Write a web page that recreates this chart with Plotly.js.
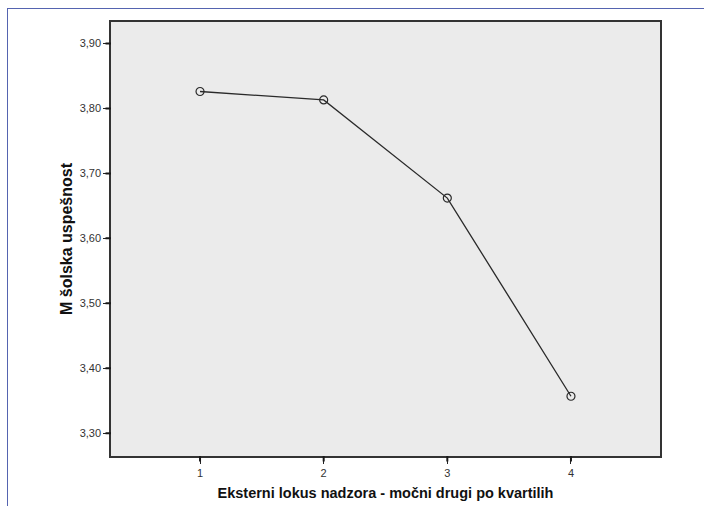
<!DOCTYPE html>
<html>
<head>
<meta charset="utf-8">
<script src="https://cdn.plot.ly/plotly-3.0.1.min.js"></script>
<style>
html,body{margin:0;padding:0;background:#fff;overflow:hidden;}
#frame{position:absolute;left:7px;top:8px;width:697px;height:498px;border-left:1.5px solid #5564b0;border-top:1.5px solid #5564b0;box-sizing:border-box;}
#chart{position:absolute;left:0;top:0;width:704px;height:506px;}
</style>
</head>
<body>
<div id="frame"></div>
<div id="chart"></div>
<script>
const categories = [1, 2, 3, 4];
const means = [3.826, 3.813, 3.662, 3.357];
const yTicks = [3.30, 3.40, 3.50, 3.60, 3.70, 3.80, 3.90];
const xTitle = "Eksterni lokus nadzora - močni drugi po kvartilih";
const yTitle = "M šolska uspešnost";

const W = 704, H = 506;
const M = {l: 111, r: 44, t: 22, b: 50};
const TICK = 7;
const X_RANGE = [0.28, 4.72];
const Y_RANGE = [3.265, 3.933];

// tick marks drawn as zero-text annotation arrows from the axis outward
const tickMarks = [];
categories.forEach(c => tickMarks.push({
  x: c, xref: 'x', y: 0, yref: 'paper', text: '', showarrow: true,
  arrowhead: 0, arrowwidth: 2, arrowcolor: '#1a1a1a', ax: 0, ay: TICK, standoff: 0, startstandoff: 0
}));
yTicks.forEach(v => tickMarks.push({
  x: 0, xref: 'paper', y: v, yref: 'y', text: '', showarrow: true,
  arrowhead: 0, arrowwidth: 2, arrowcolor: '#1a1a1a', ax: -TICK, ay: 0, standoff: 0, startstandoff: 0
}));

Plotly.newPlot('chart', [{
  x: categories,
  y: means,
  type: 'scatter',
  mode: 'lines+markers',
  line: {color: '#2a2a2a', width: 1.3},
  marker: {symbol: 'circle-open', size: 8, color: '#2a2a2a', line: {width: 1.2, color: '#2a2a2a'}},
  hoverinfo: 'x+y'
}], {
  width: W, height: H,
  margin: {l: M.l, r: M.r, t: M.t, b: M.b, pad: 0},
  paper_bgcolor: 'rgba(0,0,0,0)',
  plot_bgcolor: '#ebebeb',
  separators: ',.',
  showlegend: false,
  font: {family: 'Liberation Sans, Arial, sans-serif', color: '#333'},
  annotations: tickMarks,
  xaxis: {
    range: X_RANGE,
    tickmode: 'array',
    tickvals: categories,
    ticktext: categories.map(String),
    ticks: 'outside', ticklen: 6, tickwidth: 1.4, tickcolor: '#222',
    showgrid: false, zeroline: false,
    showline: true, mirror: true, linecolor: '#333', linewidth: 1.5,
    tickfont: {size: 11, color: '#333'},
    title: {text: xTitle, font: {size: 14.5, color: '#111', family: 'Liberation Sans, Arial, sans-serif', weight: 'bold'}, standoff: 10}
  },
  yaxis: {
    range: Y_RANGE,
    tickmode: 'array',
    tickvals: yTicks,
    tickformat: '.2f',
    ticks: 'outside', ticklen: 6, tickwidth: 1.4, tickcolor: '#222',
    showgrid: false, zeroline: false,
    showline: true, mirror: true, linecolor: '#333', linewidth: 1.5,
    tickfont: {size: 11, color: '#333'},
    title: {text: yTitle, font: {size: 16, color: '#111', family: 'Liberation Sans, Arial, sans-serif', weight: 'bold'}, standoff: 3}
  }
}, {displayModeBar: false});
</script>
</body>
</html>
